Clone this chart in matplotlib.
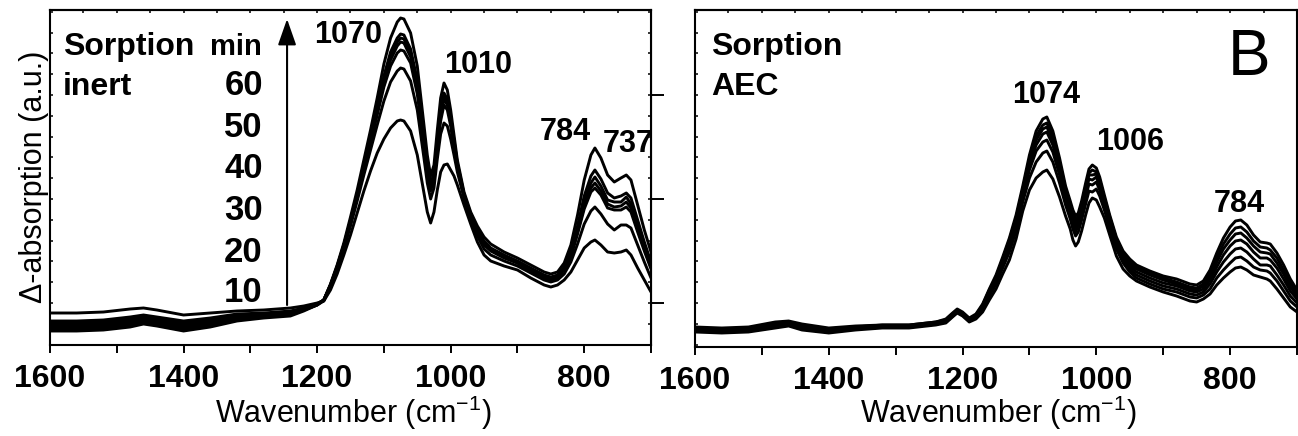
import matplotlib
matplotlib.use('Agg')
import matplotlib.pyplot as plt
from matplotlib.ticker import MultipleLocator, FixedLocator

plt.rcParams['font.family'] = ['Liberation Sans', 'DejaVu Sans']
plt.rcParams['mathtext.fontset'] = 'custom'
plt.rcParams['mathtext.rm'] = 'Liberation Sans'
plt.rcParams['mathtext.it'] = 'Liberation Sans:italic'
plt.rcParams['mathtext.bf'] = 'Liberation Sans:bold'

# ---- panel A : sorption, inert (7 spectra, a.u.) ----
wn_inert = [1600, 1560, 1520, 1480, 1460, 1440, 1400, 1360, 1320, 1280,
            1240, 1220, 1200, 1190, 1180, 1170, 1160, 1150, 1140, 1130,
            1120, 1110, 1100, 1090, 1080, 1075, 1070, 1060, 1050, 1040,
            1035, 1030, 1025, 1020, 1015, 1010, 1005, 1000, 995, 990,
            980, 970, 960, 950, 940, 920, 900, 880, 860, 850,
            840, 830, 820, 810, 800, 790, 784, 775, 765, 755,
            745, 737, 730, 720, 710, 700]

inert_70 = [-18, -18, -17, -14, -12, -14, -18, -15, -11, -10,
            -8, -5, -1, 3, 19, 38, 60, 86, 113, 143,
            173, 205, 239, 265, 281, 285, 284, 270, 237, 178,
            148, 127, 138, 173, 205, 220, 213, 193, 168, 143,
            111, 91, 77, 66, 59, 51, 45, 38, 31, 29,
            31, 40, 58, 88, 123, 148, 155, 145, 128, 121,
            125, 128, 123, 98, 73, 51]
inert_60 = [-20, -20, -19, -16, -14, -16, -20, -17, -12, -11,
            -9, -6, -1, 3, 18, 37, 58, 83, 109, 138,
            166, 196, 227, 251, 265, 269, 268, 254, 223, 167,
            139, 119, 130, 163, 193, 210, 204, 186, 163, 140,
            109, 89, 73, 62, 55, 48, 42, 35, 28, 26,
            28, 36, 52, 77, 107, 127, 133, 124, 110, 105,
            107, 110, 105, 83, 61, 41]
inert_50 = [-22, -22, -21, -18, -16, -18, -22, -19, -14, -12,
            -10, -6, -1, 3, 18, 36, 58, 82, 108, 137,
            165, 194, 224, 247, 261, 265, 264, 250, 219, 164,
            137, 118, 129, 161, 190, 207, 201, 183, 161, 139,
            108, 89, 72, 60, 54, 47, 41, 34, 27, 25,
            27, 35, 49, 74, 101, 120, 126, 117, 103, 101,
            101, 106, 99, 78, 57, 38]
inert_40 = [-24, -24, -23, -20, -17, -19, -24, -21, -15, -13,
            -11, -7, -2, 3, 18, 36, 57, 82, 107, 136,
            163, 192, 221, 243, 257, 261, 260, 246, 216, 162,
            134, 116, 127, 159, 187, 204, 198, 181, 158, 137,
            108, 88, 71, 59, 53, 46, 40, 33, 26, 24,
            26, 34, 48, 71, 97, 115, 120, 112, 99, 96,
            97, 101, 95, 74, 54, 36]
inert_30 = [-26, -26, -25, -22, -19, -21, -26, -23, -16, -14,
            -12, -7, -2, 3, 17, 35, 56, 80, 106, 133,
            160, 188, 216, 237, 250, 253, 252, 240, 209, 157,
            130, 112, 123, 154, 182, 198, 193, 177, 155, 136,
            107, 87, 70, 58, 52, 45, 40, 32, 25, 23,
            25, 33, 46, 69, 94, 111, 115, 108, 95, 93,
            93, 96, 91, 71, 52, 34]
inert_20 = [-28, -28, -27, -24, -21, -23, -28, -24, -18, -15,
            -13, -8, -2, 2, 16, 34, 54, 77, 102, 128,
            153, 178, 202, 221, 232, 235, 234, 222, 193, 145,
            120, 104, 115, 144, 169, 180, 177, 164, 148, 131,
            105, 85, 67, 54, 48, 42, 37, 30, 23, 21,
            23, 29, 41, 59, 79, 92, 96, 89, 79, 73,
            78, 78, 75, 58, 41, 25]
inert_10 = [-10, -10, -9, -6, -5, -7, -12, -10, -8, -7,
            -5, -3, 0, 2, 13, 29, 48, 68, 90, 112,
            132, 150, 164, 175, 182, 183, 182, 172, 148, 110,
            91, 80, 91, 113, 131, 138, 139, 133, 127, 118,
            98, 79, 61, 48, 42, 37, 33, 25, 18, 16,
            18, 23, 31, 43, 55, 61, 63, 58, 51, 50,
            51, 53, 48, 35, 23, 11]

# ---- panel B : sorption, AEC ----
wn_aec = [1600, 1560, 1520, 1480, 1460, 1440, 1400, 1360, 1320, 1280,
          1240, 1225, 1215, 1208, 1200, 1190, 1180, 1170, 1160, 1150,
          1140, 1130, 1120, 1110, 1100, 1090, 1080, 1074, 1065, 1055,
          1046, 1039, 1035, 1031, 1027, 1022, 1016, 1011, 1006, 1000,
          995, 988, 980, 970, 960, 950, 940, 920, 900, 880,
          860, 850, 840, 830, 820, 810, 800, 792, 784, 775,
          765, 755, 745, 740, 730, 720, 710, 700]

aec_70 = [-24, -25, -24, -19, -18, -21, -25, -23, -22, -22,
          -19, -16, -10, -6, -9, -15, -11, -1, 14, 28,
          46, 65, 88, 117, 148, 172, 184, 186, 172, 145,
          117, 102, 93, 87, 90, 102, 120, 134, 138, 135,
          126, 108, 88, 66, 52, 44, 38, 32, 27, 24,
          19, 18, 22, 33, 50, 65, 76, 82, 83, 78,
          68, 61, 60, 59, 50, 38, 24, 13]
aec_60 = [-25, -26, -25, -20, -19, -22, -26, -24, -22, -22,
          -19, -17, -11, -7, -10, -16, -12, -2, 13, 26,
          44, 63, 85, 114, 144, 167, 178, 180, 167, 141,
          114, 99, 90, 83, 87, 99, 116, 130, 133, 131,
          123, 105, 86, 64, 50, 41, 36, 30, 25, 21,
          16, 15, 19, 29, 45, 59, 69, 75, 76, 71,
          62, 56, 55, 53, 45, 33, 20, 10]
aec_50 = [-26, -27, -26, -21, -20, -23, -27, -24, -23, -23,
          -20, -17, -11, -7, -10, -16, -12, -3, 12, 25,
          43, 61, 83, 112, 141, 163, 174, 176, 163, 138,
          111, 97, 87, 79, 84, 96, 114, 128, 128, 129,
          120, 104, 84, 62, 49, 39, 34, 28, 23, 19,
          14, 13, 17, 26, 41, 54, 63, 69, 70, 65,
          57, 51, 50, 49, 40, 29, 16, 7]
aec_40 = [-26, -27, -26, -22, -20, -24, -27, -25, -23, -23,
          -20, -18, -12, -8, -11, -17, -13, -4, 11, 24,
          41, 59, 81, 110, 138, 158, 169, 171, 158, 134,
          108, 94, 84, 75, 82, 93, 111, 124, 123, 126,
          117, 101, 82, 60, 47, 37, 31, 25, 20, 17,
          12, 11, 14, 23, 36, 48, 57, 62, 63, 59,
          51, 45, 45, 43, 35, 24, 12, 4]
aec_30 = [-27, -28, -27, -23, -21, -25, -28, -26, -24, -24,
          -21, -19, -13, -9, -12, -18, -14, -5, 9, 22,
          39, 56, 78, 106, 133, 152, 161, 163, 151, 128,
          104, 90, 80, 71, 78, 89, 106, 119, 118, 121,
          113, 98, 79, 58, 44, 34, 28, 22, 17, 14,
          9, 8, 11, 19, 31, 41, 49, 54, 55, 51,
          44, 38, 38, 37, 28, 18, 7, 0]
aec_20 = [-28, -29, -28, -24, -22, -26, -29, -26, -24, -24,
          -21, -19, -13, -9, -12, -18, -15, -7, 7, 19,
          35, 51, 72, 101, 125, 141, 150, 152, 141, 120,
          98, 84, 74, 67, 71, 83, 99, 112, 111, 114,
          107, 93, 75, 54, 40, 31, 25, 19, 14, 11,
          6, 5, 8, 14, 25, 33, 40, 45, 46, 42,
          36, 33, 32, 30, 22, 12, 2, -4]
aec_10 = [-29, -30, -29, -25, -23, -27, -30, -27, -25, -25,
          -22, -20, -14, -10, -13, -19, -16, -9, 3, 14,
          29, 43, 64, 92, 113, 125, 131, 133, 124, 106,
          87, 74, 63, 57, 61, 72, 88, 100, 105, 103,
          96, 85, 68, 47, 34, 27, 22, 16, 11, 7,
          2, 1, 4, 9, 18, 25, 31, 35, 36, 33,
          28, 26, 24, 22, 14, 5, -4, -9]

time_labels = ['60', '50', '40', '30', '20', '10']
inert_peaks = ['1070', '1010', '784', '737']
aec_peaks = ['1074', '1006', '784']

inert_all = [inert_10, inert_20, inert_30, inert_40, inert_50, inert_60, inert_70]
aec_all = [aec_10, aec_20, aec_30, aec_40, aec_50, aec_60, aec_70]

W, H = 1298, 436
fig = plt.figure(figsize=(W / 100, H / 100), dpi=100)
ax1 = fig.add_axes([50 / W, 91 / H, 601 / W, 335 / H])
ax2 = fig.add_axes([695 / W, 89 / H, 602 / W, 337 / H])


def style(ax, ybottom):
    ax.set_xlim(1600, 700)
    ax.set_ylim(ybottom, 293)
    for s in ax.spines.values():
        s.set_linewidth(1.5)
    ax.xaxis.set_major_locator(MultipleLocator(200))
    ax.xaxis.set_minor_locator(MultipleLocator(100))
    ax.tick_params(axis='x', which='both', direction='out', length=6, width=1.4,
                   top=False, pad=8)
    ax.tick_params(axis='x', which='major', labelsize=23)
    for lab in ax.get_xticklabels():
        lab.set_fontweight('bold')
    ax.yaxis.set_major_locator(MultipleLocator(20.8))
    ax.tick_params(axis='y', which='major', direction='in', length=2.5, width=1.1,
                   labelleft=False)
    top = ax.secondary_xaxis('top')
    top.xaxis.set_major_locator(MultipleLocator(50))
    top.tick_params(direction='in', length=2.5, width=1.1, labeltop=False)
    top.spines['top'].set_linewidth(1.5)


for ax, wn, curves in [(ax1, wn_inert, inert_all), (ax2, wn_aec, aec_all)]:
    for c in curves:
        ax.plot(wn, c, color='k', lw=2.1, solid_joinstyle='round',
                solid_capstyle='round')

style(ax1, -42)
style(ax2, -44)
ax1.tick_params(axis='y', which='major', right=True)
ax2.tick_params(axis='y', which='major', right=False)

# outward major ticks on the right of panel A
sec = ax1.secondary_yaxis('right')
sec.yaxis.set_major_locator(FixedLocator([0, 104, 208]))
sec.tick_params(direction='out', length=9.5, width=1.4, labelright=False)

# ---- panel A text ----
bold = dict(fontweight='bold', transform=ax1.transAxes, va='baseline')
ax1.text(0.022, 0.866, 'Sorption', fontsize=23, ha='left', **bold)
ax1.text(0.022, 0.746, 'inert', fontsize=23, ha='left', **bold)
ax1.text(0.353, 0.866, 'min', fontsize=21, ha='right', **bold)
for lab, yy in zip(time_labels, [0.746, 0.621, 0.499, 0.373, 0.248, 0.128]):
    ax1.text(0.354, yy, lab, fontsize=25, ha='right', **bold)
ax1.annotate('', xy=(1245, 284), xytext=(1245, -2),
             arrowprops=dict(arrowstyle='-|>,head_length=0.8,head_width=0.28',
                             color='k', lw=1.5, mutation_scale=20,
                             shrinkA=0, shrinkB=0))
for lab, xx, yy in zip(inert_peaks, [0.496, 0.712, 0.857, 0.962],
                       [0.901, 0.812, 0.612, 0.576]):
    ax1.text(xx, yy, lab, fontsize=22, ha='center', clip_on=True, **bold)

# ---- panel B text ----
bold2 = dict(fontweight='bold', transform=ax2.transAxes, va='baseline')
ax2.text(0.027, 0.866, 'Sorption', fontsize=23, ha='left', **bold2)
ax2.text(0.027, 0.748, 'AEC', fontsize=23, ha='left', **bold2)
ax2.text(0.955, 0.807, 'B', fontsize=46, ha='right', va='baseline',
         transform=ax2.transAxes)
for lab, xx, yy in zip(aec_peaks, [0.583, 0.7226, 0.904], [0.724, 0.585, 0.401]):
    ax2.text(xx, yy, lab, fontsize=22, ha='center', **bold2)

# axis labels
fig.text(34 / W, 1 - 177 / H, '\u0394-absorption (a.u.)', fontsize=22,
         rotation=90, ha='center', va='center')
fig.text(353 / W, 13 / H, 'Wavenumber (cm$^{\\mathregular{-1}}$)', fontsize=22,
         ha='center', va='baseline')
fig.text(998 / W, 13 / H, 'Wavenumber (cm$^{\\mathregular{-1}}$)', fontsize=22,
         ha='center', va='baseline')

fig.savefig('out.png', dpi=100)
